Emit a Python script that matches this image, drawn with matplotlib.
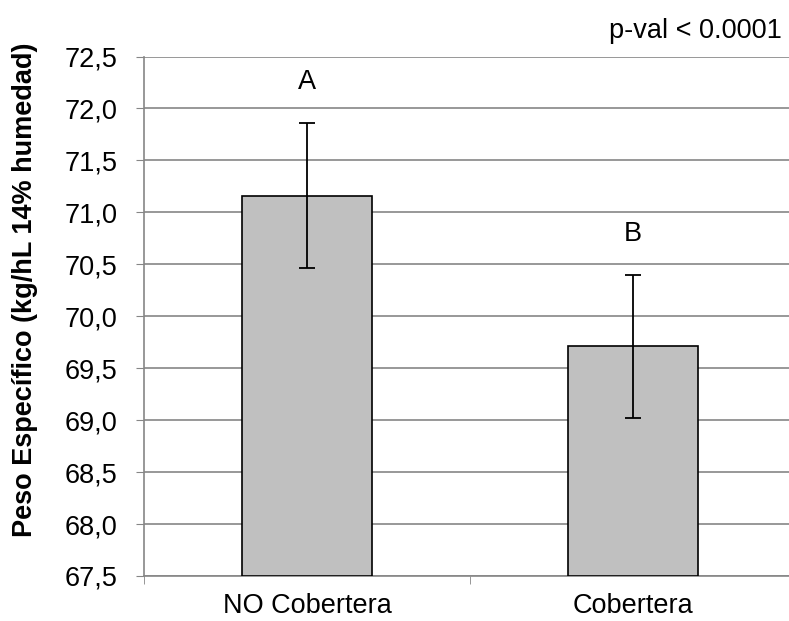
import matplotlib
matplotlib.use("Agg")
import matplotlib.pyplot as plt
import numpy as np

categories = ["NO Cobertera", "Cobertera"]
means = [71.16, 69.71]
errors = [0.70, 0.69]
letters = ["A", "B"]
yticks = [67.5, 68.0, 68.5, 69.0, 69.5, 70.0, 70.5, 71.0, 71.5, 72.0, 72.5]

plt.rcParams['font.family'] = ['Liberation Sans', 'DejaVu Sans']
FS = 19.5

fig = plt.figure(figsize=(7.89, 6.21), dpi=100)
ax = fig.add_axes([0.1825, 0.0725, 0.8265, 0.8365])

x = np.arange(len(categories))
ax.bar(x, [m - 67.5 for m in means], bottom=67.5, width=0.4, color="#C0C0C0",
       edgecolor="black", linewidth=1.2, zorder=3)
ax.errorbar(x, means, yerr=errors, fmt="none", ecolor="black", elinewidth=1.3,
            capsize=6, capthick=1.3, zorder=4)
for xi, m, e, l in zip(x, means, errors, letters):
    ax.text(xi, m + e + 0.39, l, ha="center", va="center", fontsize=FS)

ax.set_xlim(-0.5, 1.5)
ax.set_ylim(67.5, 72.5)
ax.set_yticks(yticks)
ax.set_yticklabels([f"{v:.1f}".replace(".", ",") for v in yticks], fontsize=FS)
ax.set_xticks(x)
ax.set_xticklabels(categories, fontsize=FS)
ax.tick_params(axis="x", length=0, pad=12)
ax.set_xticks([-0.5, 0.5, 1.5], minor=True)
ax.tick_params(axis="x", which="minor", length=6, color="#868686")
ax.tick_params(axis="y", length=6, color="#868686", pad=13)
ax.yaxis.grid(True, color="#868686", linewidth=1.2, zorder=0)
for s in ["top", "right"]:
    ax.spines[s].set_visible(False)
ax.spines["left"].set_color("#868686")
ax.spines["bottom"].set_color("#868686")
ax.spines["left"].set_linewidth(1.2)
ax.spines["bottom"].set_linewidth(1.2)

fig.text(25 / 789, 0.533, "Peso Específico (kg/hL 14% humedad)", rotation=90,
         ha="center", va="center", fontsize=FS, fontweight="bold")

fig.text(0.991, 0.95, "p-val < 0.0001", ha="right", va="center", fontsize=FS)

fig.savefig("out.png", dpi=100)
